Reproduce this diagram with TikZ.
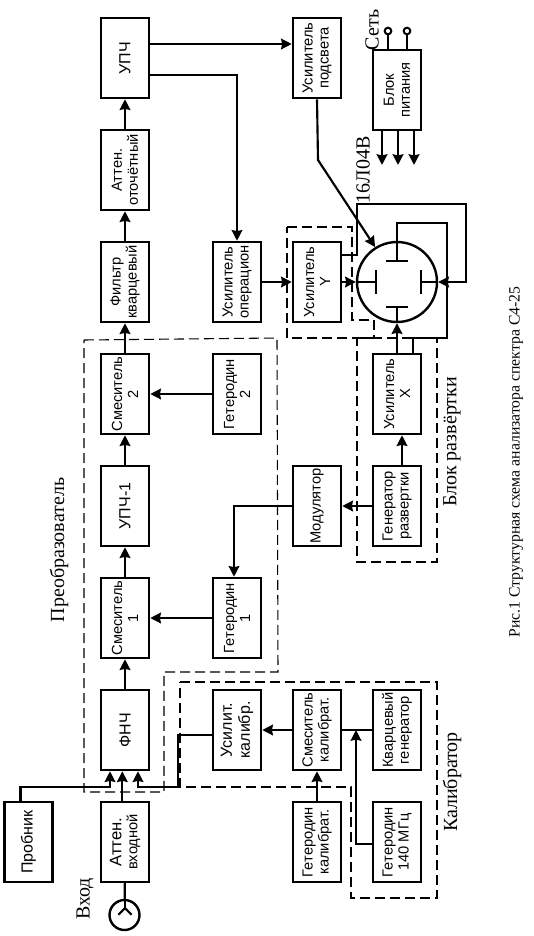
\documentclass[tikz,border=0pt]{standalone}
\usepackage{fontspec}
\setmainfont{Liberation Serif}
\newfontfamily\blokfont{Liberation Sans}
\usetikzlibrary{arrows.meta,shapes}
\tikzset{
blok/.style={draw,rectangle,rotate=90,minimum width=60pt,minimum height=36pt,inner sep=0pt,line width=1.9pt,align=center,font=\blokfont\fontsize{11}{12}\selectfont},
bigblok/.style={blok,font=\blokfont\fontsize{12}{13.5}\selectfont},
wire/.style={line width=1.6pt},
strelka/.style={wire,-{Stealth[length=8pt,width=8pt,inset=0.8pt]}},
pung/.style={dash pattern=on 7.5pt off 3.75pt,line width=0.8pt},
nadpis/.style={rotate=90,font=\fontsize{15}{18}\selectfont},
klemma/.style={draw,circle,line width=1.5pt,minimum size=5pt,inner sep=0pt}
}
\begin{document}
\begin{tikzpicture}[x=0.75pt,y=-0.75pt]
\useasboundingbox (0,0) rectangle (534,936);
\node[bigblok] (upch) at (125,58) {УПЧ};
\node[blok] (attot) at (125,170) {Аттен.\\оточётный};
\node[blok] (filtr) at (125,282) {Фильтр\\кварцевый};
\node[blok] (smes2) at (125,394) {Смеситель\\2};
\node[bigblok] (upch1) at (125,506) {УПЧ-1};
\node[blok] (smes1) at (125,618) {Смеситель\\1};
\node[bigblok] (fnch) at (125,730) {ФНЧ};
\node[blok] (attvh) at (125,842) {{\fontsize{12.5}{13.5}\selectfont Аттен.}\\входной};
\node[bigblok] (probnik) at (28.5,842) {Пробник};
\node[blok] (oper) at (237,282) {Усилитель\\операцион};
\node[blok] (get2) at (237,394) {Гетеродин\\2};
\node[blok] (get1) at (237,618) {Гетеродин\\1};
\node[bigblok] (uskal) at (237,730) {Усилит.\\калибр.};
\node[blok] (podsvet) at (317,58) {Усилитель\\подсвета};
\node[blok] (usY) at (317,282) {Усилитель\\Y};
\node[blok] (modul) at (317,506) {Модулятор};
\node[blok] (smkal) at (317,730) {Смеситель\\калибрат.};
\node[blok] (getkal) at (317,842) {Гетеродин\\калибрат.};
\node[blok] (pitan) at (397,90) {Блок\\питания};
\node[blok] (usX) at (397,394) {Усилитель\\X};
\node[blok] (genr) at (397,506) {Генератор\\развертки};
\node[blok] (kvarc) at (397,730) {Кварцевый\\генератор};
\node[blok] (get140) at (397,842) {Гетеродин\\140 МГц};
\node[draw,circle,line width=1.8pt,minimum size=60pt,inner sep=0pt] (trubka) at (397,282) {};
\node[draw,circle,line width=1.8pt,minimum size=22.5pt,inner sep=0pt] (vhod) at (124.5,915) {};
\node[klemma] (set1) at (388,31) {};
\node[klemma] (set2) at (407,31) {};
\coordinate (vyh1) at (382,165);
\coordinate (vyh2) at (398,165);
\coordinate (vyh3) at (414,165);
\coordinate (plL) at (376,282);
\coordinate (plR) at (421,282);
\coordinate (plT) at (397,261);
\coordinate (plB) at (397,307);
\coordinate (podl) at (318,160);
\coordinate (yy1) at (357,204);
\coordinate (yy2) at (466,204);
\coordinate (xx1) at (447,223);
\coordinate (xx2) at (413,338);
\coordinate (prob1) at (110,787);
\coordinate (kal1) at (178,787);
\coordinate (vh0) at (125,908);
\coordinate (g140) at (356,730);
% main chain
\draw[strelka] (smes1) -- (upch1);
\draw[strelka] (upch1) -- (smes2);
\draw[strelka] (smes2) -- (filtr);
\draw[strelka] (filtr) -- (attot);
\draw[strelka] (attot) -- (upch);
\draw[strelka] (fnch) -- (smes1);
\draw[strelka] ([xshift=-2pt]attvh.east) -- ([xshift=-2pt]fnch.west);
\draw[strelka] ([xshift=-6pt]probnik.east) |- (prob1) -- (prob1 |- fnch.west);
\draw[strelka] ([yshift=-3.75pt]uskal.north) -| (kal1) -| ([xshift=9.75pt]fnch.west);
\draw[wire] (vhod) -- (attvh);
\draw[wire] (attvh.west) -- (vh0);
\draw[wire] ([xshift=-5pt,yshift=-5pt]vh0) -- (vh0) -- ([xshift=5pt,yshift=-5pt]vh0);
% geterodiny
\draw[strelka] (get2) -- (smes2);
\draw[strelka] (get1) -- (smes1);
\draw[strelka] (modul.north) -| ([xshift=-2.25pt]get1.east);
\draw[strelka] (genr) -- (modul);
\draw[strelka] ([xshift=3.75pt]genr.east) -- ([xshift=3.75pt]usX.west);
% kalibrator
\draw[strelka] (smkal) -- (uskal);
\draw[wire] (kvarc) -- (smkal);
\draw[strelka] (getkal) -- (smkal);
\draw[strelka] ([yshift=-1.5pt]get140.north) -| (g140);
% UPCh vyhody
\draw[strelka] ([yshift=10.5pt]upch.south) -- ([yshift=10.5pt]podsvet.north);
\draw[strelka] ([yshift=-12.75pt]upch.south) -| (oper.east);
\draw[strelka] (oper) -- (usY);
\draw[strelka] (podsvet.west) -- (podl) -- (trubka.122);
% trubka
\draw[strelka] (usY.south) -- (trubka.west);
\draw[wire] (trubka.west) -- (plL);
\draw[wire] ([yshift=9pt]plL) -- ([yshift=-9pt]plL);
\draw[strelka] ([yshift=20.25pt]usY.south) -| (yy1) -- (yy2) |- (trubka.east);
\draw[wire] (trubka.east) -- (plR);
\draw[wire] ([yshift=9pt]plR) -- ([yshift=-9pt]plR);
\draw[wire] (plT) |- (xx1) |- (xx2) -- ([xshift=12pt]usX.east);
\draw[wire] ([xshift=-8pt]plT) -- ([xshift=8pt]plT);
\draw[strelka] (usX) -- (trubka.south);
\draw[wire] (trubka.south) -- (plB);
\draw[wire] ([xshift=-8pt]plB) -- ([xshift=8pt]plB);
% pitanie
\draw[wire] (set1) -- (set1 |- pitan.east);
\draw[wire] (set2) -- (set2 |- pitan.east);
\draw[strelka] (vyh1 |- pitan.west) -- (vyh1);
\draw[strelka] (vyh2 |- pitan.west) -- (vyh2);
\draw[strelka] (vyh3 |- pitan.west) -- (vyh3);
% punktir
\draw[pung] (84,340) -- (277,338) -- (278,672) -- (164,672) -- (164,792) -- (84,792) -- cycle;
\draw[pung] (180,682) -- (437,682) -- (437,898) -- (351,898) -- (351,787) -- (180,787) -- cycle;
\draw[pung] (287,227) -- (352,227) -- (352,320) -- (374,320) -- (374,338) -- (287,338) -- cycle;
\draw[pung] (357,338) -- (437,338) -- (437,562) -- (357,562) -- cycle;
% nadpisi
\node[nadpis] (tpreob) at (59,550) {Преобразователь};
\node[nadpis] (tkalib) at (452,782) {Калибратор};
\node[nadpis] (trazv) at (452,442) {Блок развёртки};
\node[nadpis] (tvhod) at (85,899) {Вход};
\node[nadpis] (tset) at (372,30) {Сеть};
\node[nadpis] (tlamp) at (363,170) {16Л04В};
\node[rotate=90,font=\fontsize{11.8}{14}\selectfont] (tcaption) at (516,462) {Рис.1 Структурная схема анализатора спектра С4-25};
\end{tikzpicture}
\end{document}
